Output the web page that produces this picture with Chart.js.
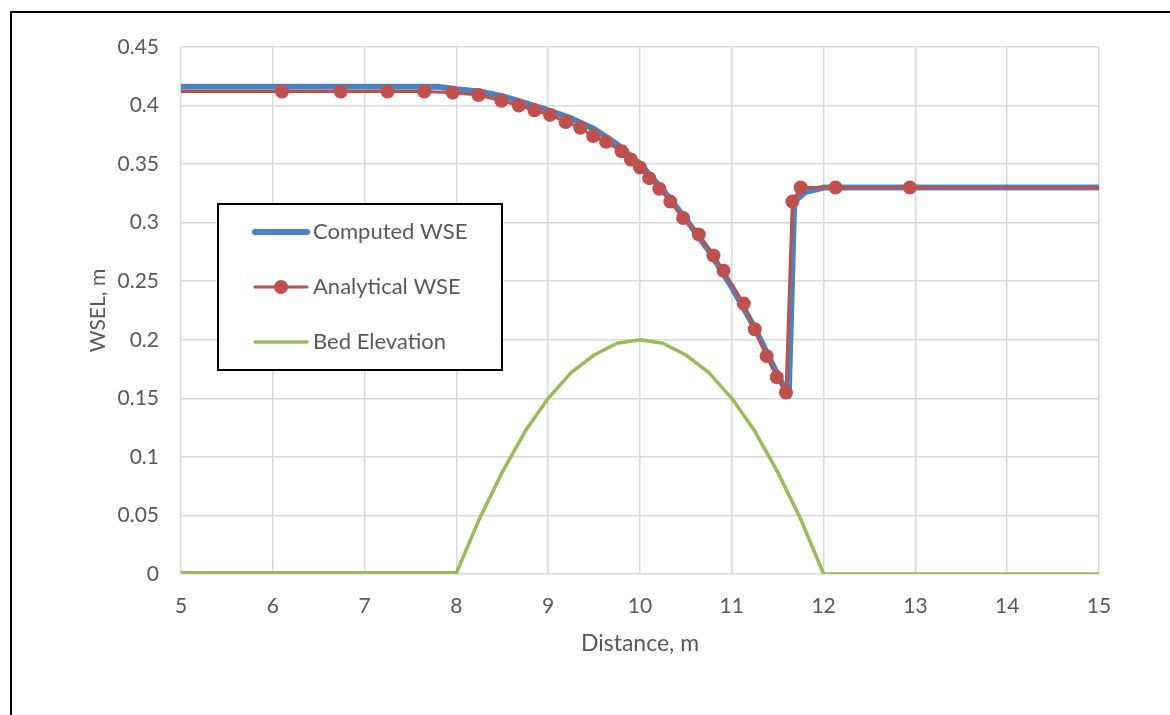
<!DOCTYPE html>
<html>
<head>
<meta charset="utf-8">
<script src="https://cdn.jsdelivr.net/npm/chart.js@4.4.1/dist/chart.umd.min.js"></script>
<style>
  html, body { margin: 0; padding: 0; background: #fff; overflow: hidden; }
  #wrap { position: relative; width: 1170px; height: 715px; }
  #frame { position: absolute; left: 10px; top: 11px; width: 1300px; height: 900px; border: 2px solid #000; box-sizing: border-box; pointer-events: none; }
  canvas { position: absolute; left: 0; top: 0; }
</style>
</head>
<body>
<div id="wrap">
  <canvas id="chart" width="1170" height="715"></canvas>
  <div id="frame"></div>
</div>
<script>
// Computed WSE (numerical model)
const computedX = [5, 7.8, 8.0, 8.25, 8.5, 8.75, 9.0, 9.25, 9.5, 9.75, 10.0, 10.25, 10.5, 10.75, 11.0, 11.25, 11.5, 11.62, 11.68, 11.8, 12.0, 15];
const computedY = [0.416, 0.416, 0.414, 0.412, 0.408, 0.402, 0.396, 0.389, 0.380, 0.367, 0.350, 0.328, 0.303, 0.276, 0.245, 0.210, 0.170, 0.152, 0.318, 0.326, 0.330, 0.330];

// Analytical WSE (markers); first and last points sit outside the axis range
const analyticX = [0, 6.10, 6.74, 7.25, 7.65, 7.96, 8.24, 8.49, 8.68, 8.85, 9.02, 9.19, 9.35, 9.49, 9.63, 9.80, 9.90, 10.0, 10.10, 10.21, 10.33, 10.47, 10.64, 10.80, 10.91, 11.13, 11.25, 11.38, 11.49, 11.59, 11.66, 11.75, 12.13, 12.94, 20];
const analyticY = [0.412, 0.412, 0.412, 0.412, 0.412, 0.411, 0.409, 0.404, 0.400, 0.396, 0.392, 0.386, 0.381, 0.374, 0.369, 0.361, 0.354, 0.347, 0.338, 0.329, 0.318, 0.304, 0.290, 0.272, 0.259, 0.231, 0.209, 0.186, 0.168, 0.155, 0.318, 0.330, 0.330, 0.330, 0.330];

// Bed elevation
const bedX = [5, 8.0, 8.25, 8.5, 8.75, 9.0, 9.25, 9.5, 9.75, 10.0, 10.25, 10.5, 10.75, 11.0, 11.25, 11.5, 11.75, 12.0, 15];
const bedY = [0.001, 0.001, 0.047, 0.087, 0.122, 0.150, 0.172, 0.187, 0.197, 0.200, 0.197, 0.187, 0.172, 0.150, 0.122, 0.087, 0.047, 0, 0];

const seriesNames = ['Computed WSE', 'Analytical WSE', 'Bed Elevation'];
const seriesColors = ['#4f81bd', '#c0504d', '#9bbb59'];

const FONT = 'Lato';
const TEXT = '#595959';

function toPts(xs, ys) { return xs.map((x, i) => ({ x: x, y: ys[i] })); }

// legend box drawn inside the plot like the Excel one
const boxLegend = {
    id: 'boxLegend',
    afterDraw(chart) {
        const ctx = chart.ctx;
        const bx = 218, by = 204, bw = 284, bh = 166;
        ctx.save();
        ctx.fillStyle = '#fff';
        ctx.fillRect(bx, by, bw, bh);
        ctx.strokeStyle = '#000';
        ctx.lineWidth = 2;
        ctx.strokeRect(bx, by, bw, bh);
        const rows = [232, 287, 342];
        const widths = [6, 3, 3.5];
        rows.forEach((ry, i) => {
            ctx.strokeStyle = seriesColors[i];
            ctx.lineWidth = widths[i];
            ctx.lineCap = 'round';
            ctx.beginPath();
            ctx.moveTo(255, ry);
            ctx.lineTo(307, ry);
            ctx.stroke();
            if (i === 1) {
                ctx.fillStyle = seriesColors[i];
                ctx.beginPath();
                ctx.arc(281, ry, 7, 0, Math.PI * 2);
                ctx.fill();
            }
            ctx.fillStyle = TEXT;
            ctx.font = '22px ' + FONT;
            ctx.textBaseline = 'middle';
            ctx.textAlign = 'left';
            ctx.fillText(seriesNames[i], 313, ry);
        });
        ctx.restore();
    }
};

new Chart(document.getElementById('chart').getContext('2d'), {
    type: 'line',
    data: {
        datasets: [
            { label: seriesNames[0], data: toPts(computedX, computedY), borderColor: seriesColors[0], borderWidth: 6, pointRadius: 0, order: 1 },
            { label: seriesNames[1], data: toPts(analyticX, analyticY), borderColor: seriesColors[1], backgroundColor: seriesColors[1], borderWidth: 3, pointRadius: 7, pointBorderWidth: 0, order: 0 },
            { label: seriesNames[2], data: toPts(bedX, bedY), borderColor: seriesColors[2], borderWidth: 3.5, pointRadius: 0, order: 2 }
        ]
    },
    options: {
        responsive: false,
        animation: false,
        layout: { padding: { left: 86, right: 71, top: 47, bottom: 50 } },
        plugins: { legend: { display: false }, tooltip: { enabled: false } },
        elements: { line: { tension: 0, borderJoinStyle: 'round' } },
        scales: {
            x: {
                type: 'linear', min: 5, max: 15,
                ticks: { stepSize: 1, padding: 20, color: TEXT, font: { family: FONT, size: 21 } },
                grid: { color: '#d9d9d9', lineWidth: 1.5, drawTicks: false },
                border: { display: false },
                title: { display: true, text: 'Distance, m', color: TEXT, font: { family: FONT, size: 23 }, padding: { top: 0, bottom: 8 } },
                afterFit(s) { s.height = 91; }
            },
            y: {
                min: 0, max: 0.45,
                ticks: {
                    stepSize: 0.05, padding: 22, color: TEXT, font: { family: FONT, size: 21 },
                    callback: v => String(+v.toFixed(2))
                },
                grid: { color: '#d9d9d9', lineWidth: 1.5, drawTicks: false },
                border: { display: false },
                title: { display: true, text: 'WSEL, m', color: TEXT, font: { family: FONT, size: 21 }, padding: { top: 0, bottom: 0 } },
                afterFit(s) { s.width = 95; }
            }
        }
    },
    plugins: [boxLegend]
});
</script>
</body>
</html>
